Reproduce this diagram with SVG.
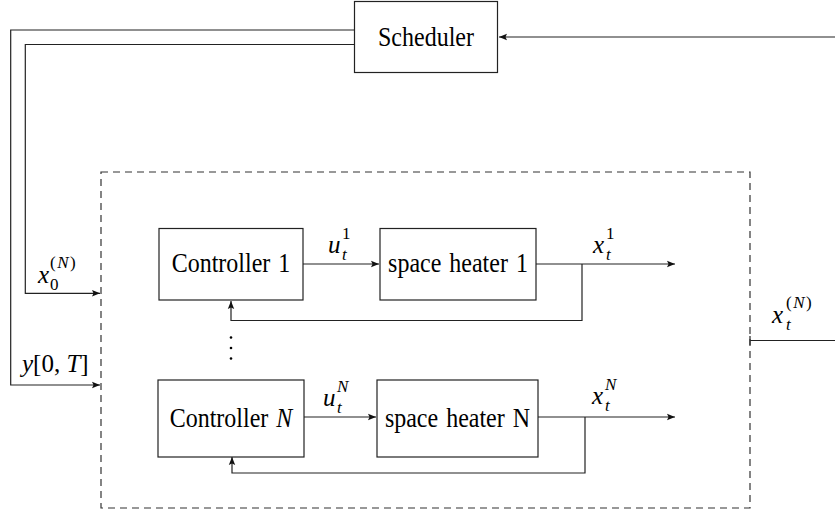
<svg xmlns="http://www.w3.org/2000/svg" width="835" height="512" viewBox="0 0 835 512">
<defs>
<style>
.box{fill:#fff;stroke:#222;stroke-width:1.2}
.dash{fill:none;stroke:#333;stroke-width:1.2;stroke-dasharray:7 5}
.ln{fill:none;stroke:#222;stroke-width:1.2}
.t{font-family:"Liberation Serif","Times New Roman",serif;font-size:24px;fill:#000;word-spacing:2px}
.m{font-family:"Liberation Serif","Times New Roman",serif;font-size:25px;font-style:italic;fill:#000}
.s{font-family:"Liberation Serif","Times New Roman",serif;font-size:17px;fill:#000}
.i{font-style:italic}
.u{font-style:normal}
</style>
<marker id="arr" markerWidth="10" markerHeight="8" refX="8" refY="4" orient="auto" markerUnits="userSpaceOnUse">
<path d="M0,0.8 L8,4 L0,7.2 L1.5,4 Z" fill="#111"/>
</marker>
</defs>
<rect width="835" height="512" fill="#fff"/>

<g id="connectors">
<line class="ln" x1="835" y1="37" x2="499" y2="37" marker-end="url(#arr)"/>
<polyline class="ln" points="354,30 10.7,30 10.7,385 100,385" marker-end="url(#arr)"/>
<polyline class="ln" points="354,44.5 25.3,44.5 25.3,293.3 100,293.3" marker-end="url(#arr)"/>
<line class="ln" x1="303" y1="264" x2="379" y2="264" marker-end="url(#arr)"/>
<line class="ln" x1="536" y1="264" x2="675" y2="264" marker-end="url(#arr)"/>
<polyline class="ln" points="582,264 582,320.5 231,320.5 231,301" marker-end="url(#arr)"/>
<line class="ln" x1="304" y1="417" x2="376" y2="417" marker-end="url(#arr)"/>
<line class="ln" x1="538" y1="417" x2="675" y2="417" marker-end="url(#arr)"/>
<polyline class="ln" points="585,417 585,473 232,473 232,457" marker-end="url(#arr)"/>
<line class="ln" x1="750" y1="340.5" x2="835" y2="340.5"/>
<line class="ln" x1="750" y1="336" x2="750" y2="345"/>
</g>

<g id="system">
<rect class="dash" x="101" y="172" width="649" height="336"/>
</g>

<g id="scheduler">
<rect class="box" x="354.5" y="1.5" width="143" height="71"/>
<text class="t" x="426" y="46" text-anchor="middle" transform="matrix(1,0,0,1.1,0,-4.6)">Scheduler</text>
</g>

<g id="controller1">
<rect class="box" x="159" y="228.5" width="144" height="71.5"/>
<text class="t" x="231" y="272.5" text-anchor="middle" transform="matrix(1,0,0,1.1,0,-27.25)">Controller 1</text>
</g>

<g id="heater1">
<rect class="box" x="380" y="228.5" width="156" height="71.5"/>
<text class="t" x="458" y="272.5" text-anchor="middle" transform="matrix(1,0,0,1.1,0,-27.25)">space heater 1</text>
</g>

<g id="controllerN">
<rect class="box" x="158" y="380" width="146" height="77"/>
<text class="t" x="231" y="427" text-anchor="middle" transform="matrix(1,0,0,1.1,0,-42.7)">Controller <tspan class="i">N</tspan></text>
</g>

<g id="heaterN">
<rect class="box" x="377" y="380" width="161" height="77"/>
<text class="t" x="457.5" y="427" text-anchor="middle" transform="matrix(1,0,0,1.1,0,-42.7)">space heater N</text>
</g>

<g id="dots">
<circle cx="231" cy="337.5" r="1.3" fill="#000"/>
<circle cx="231" cy="348" r="1.3" fill="#000"/>
<circle cx="231" cy="358.5" r="1.3" fill="#000"/>
</g>

<g id="labels">
<text class="m" x="38" y="283">x</text>
<text class="s" x="50" y="290">0</text>
<text class="s" x="50" y="268" letter-spacing="1.5">(<tspan class="i">N</tspan>)</text>

<text class="m" x="22" y="372">y<tspan class="u">[0, </tspan>T<tspan class="u">]</tspan></text>

<text class="m" x="328" y="253">u</text>
<text class="s" x="342" y="239">1</text>
<text class="s i" x="342" y="260">t</text>

<text class="m" x="323" y="406">u</text>
<text class="s i" x="337" y="392">N</text>
<text class="s i" x="337" y="413">t</text>

<text class="m" x="593" y="253">x</text>
<text class="s" x="606" y="239">1</text>
<text class="s i" x="606" y="260">t</text>

<text class="m" x="592" y="404">x</text>
<text class="s i" x="605" y="390">N</text>
<text class="s i" x="605" y="411">t</text>

<text class="m" x="772" y="323">x</text>
<text class="s" x="786" y="308" letter-spacing="1.5">(<tspan class="i">N</tspan>)</text>
<text class="s i" x="786" y="330">t</text>
</g>
</svg>
